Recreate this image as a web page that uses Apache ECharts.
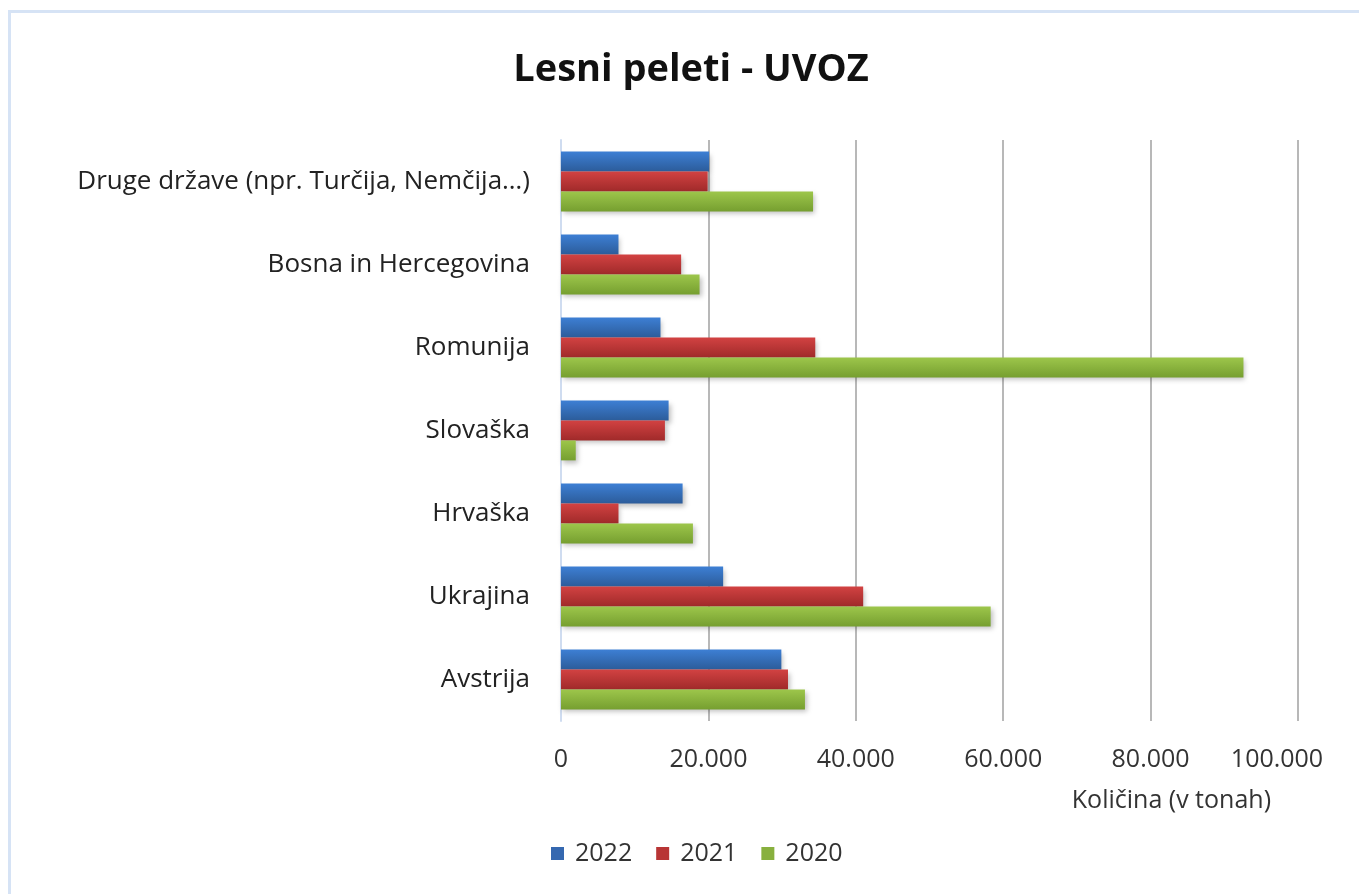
<!DOCTYPE html>
<html><head><meta charset="utf-8">
<script src="https://cdn.jsdelivr.net/npm/echarts@6/dist/echarts.min.js"></script>
<style>html,body{margin:0;padding:0;background:#fff}#c{width:1359px;height:894px}</style>
</head><body><div id="c"></div>
<script>
const categories = ["Druge države (npr. Turčija, Nemčija…)", "Bosna in Hercegovina", "Romunija", "Slovaška", "Hrvaška", "Ukrajina", "Avstrija"];
const seriesNames = ["2022", "2021", "2020"];
const v2022 = [20100, 7800, 13500, 14600, 16500, 22000, 29900];
const v2021 = [19900, 16300, 34500, 14100, 7800, 41000, 30800];
const v2020 = [34200, 18800, 92600, 2000, 17900, 58300, 33100];
const xTicks = [0, 20000, 40000, 60000, 80000, 100000];

const FONT = "'Open Sans', 'Noto Sans', sans-serif";
function grad(a, b) {
  return new echarts.graphic.LinearGradient(0, 0, 0, 1, [{offset: 0, color: a}, {offset: 1, color: b}]);
}
const cols = [["#3d7fd4", "#2c5c9a"], ["#d24242", "#a02a2a"], ["#9dc64b", "#769f30"]];
const legendCols = ["#3568b0", "#b83535", "#88b03e"];
const data = [v2022, v2021, v2020];
const xMax = xTicks[xTicks.length - 1];

const chart = echarts.init(document.getElementById('c'));
chart.setOption({
  animation: false,
  backgroundColor: '#fff',
  title: {
    text: 'Lesni peleti - UVOZ', left: 686, top: 46, textAlign: 'center',
    textStyle: {fontFamily: FONT, fontWeight: 'bold', fontSize: 38, color: '#111'}
  },
  graphic: [
    {type: 'rect', shape: {x: 9.5, y: 11.5, width: 1400, height: 950}, style: {fill: 'none', stroke: '#d6e3f5', lineWidth: 3}, silent: true},
    {type: 'text', right: 1359 - 1271, top: 788, style: {text: 'Količina (v tonah)', font: "25px 'Open Sans', sans-serif", fill: '#333'}}
  ],
  legend: {
    data: seriesNames.map((n, i) => ({name: n, itemStyle: {color: legendCols[i]}})),
    left: 546, top: 836, itemWidth: 13, itemHeight: 13, itemGap: 24,
    textStyle: {fontFamily: FONT, fontSize: 25, color: '#333', padding: [0, 0, 0, 6]},
    icon: 'rect'
  },
  grid: {left: 561, right: 61, top: 140, bottom: 173, containLabel: false},
  xAxis: {
    type: 'value', min: xTicks[0], max: xMax, interval: xTicks[1] - xTicks[0],
    axisLine: {show: false}, axisTick: {show: false},
    splitLine: {show: true, lineStyle: {color: '#b8b8b8', width: 2}},
    axisLabel: {
      margin: 26, fontFamily: FONT, fontSize: 25, color: '#333',
      formatter: v => {
        const s = v === 0 ? '0' : v.toLocaleString('de-DE');
        return v === xMax ? '{last|' + s + '}' : s;
      },
      rich: {last: {fontFamily: FONT, fontSize: 25, color: '#333', padding: [0, 42, 0, 0]}}
    }
  },
  yAxis: {
    type: 'category', data: categories, inverse: true,
    axisLine: {show: true, lineStyle: {color: '#cfdcf0', width: 2}},
    axisTick: {show: false},
    axisLabel: {margin: 31, fontFamily: FONT, fontSize: 26, color: '#222'}
  },
  series: seriesNames.map((n, i) => ({
    name: n, type: 'bar', data: data[i],
    barGap: '0%', barCategoryGap: '28%',
    itemStyle: {color: grad(cols[i][0], cols[i][1]), shadowColor: 'rgba(0,0,0,0.25)', shadowBlur: 5, shadowOffsetY: 3, shadowOffsetX: 2}
  }))
});
</script></body></html>
